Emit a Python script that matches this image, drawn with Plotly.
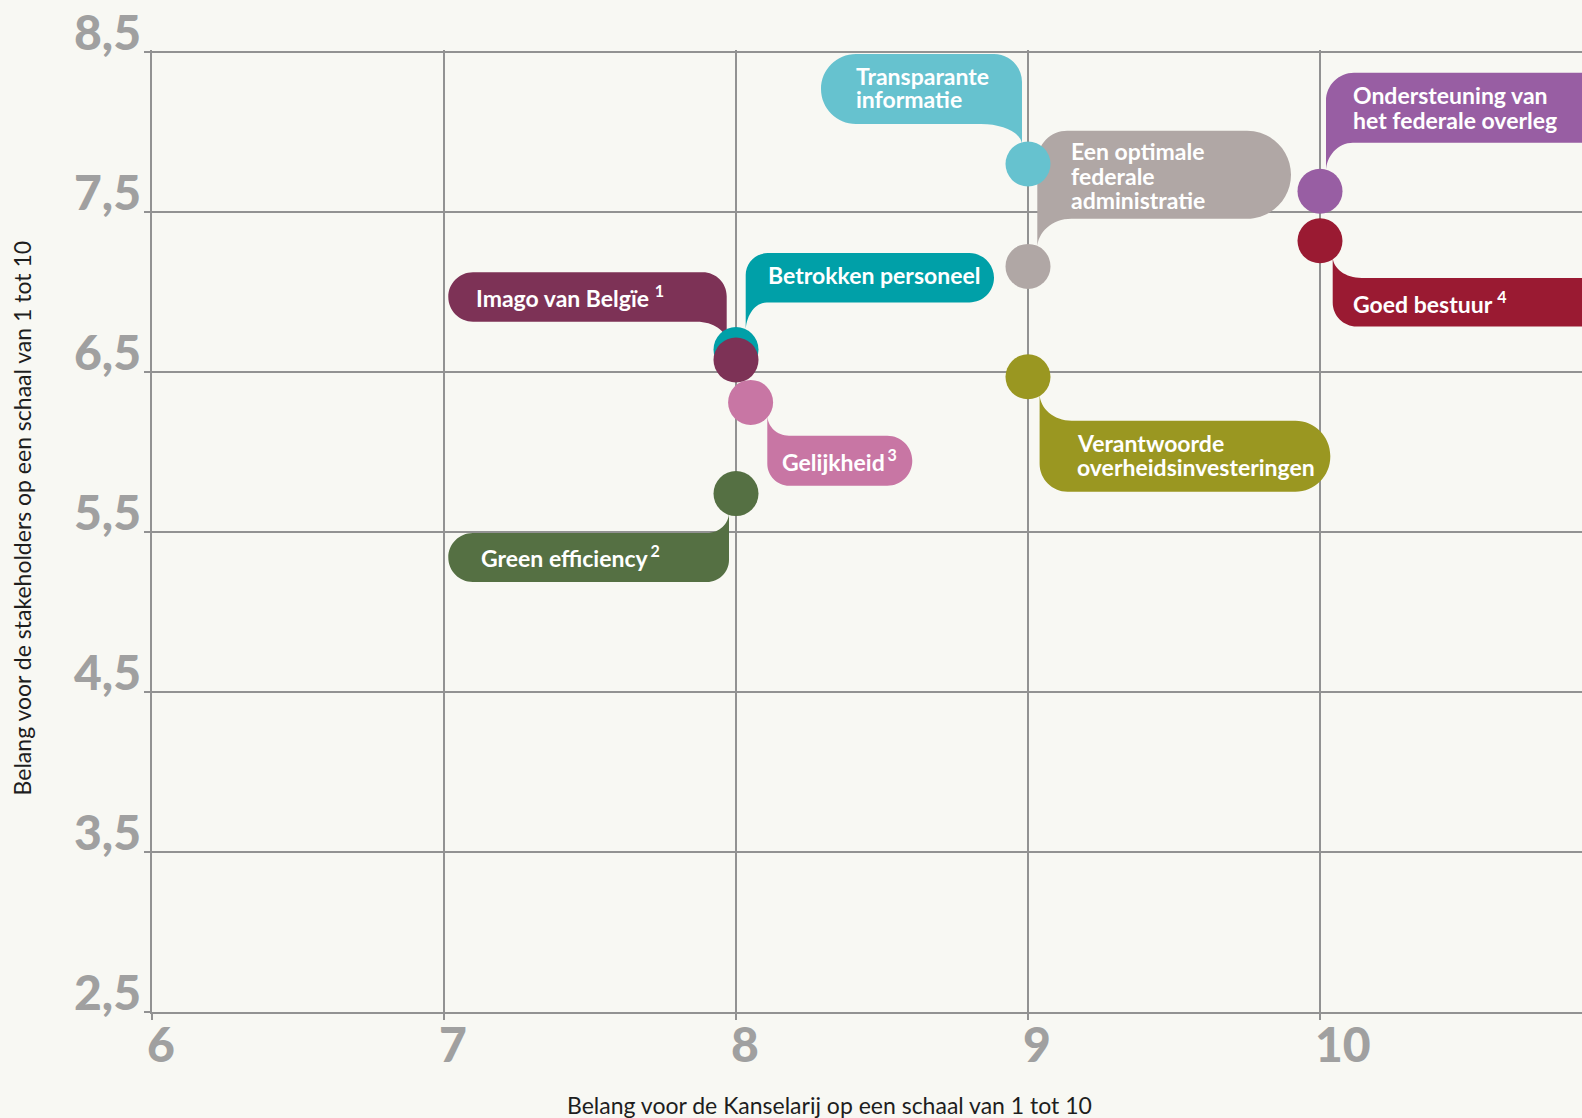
import math
import plotly.graph_objects as go

# ---------------- data ----------------
categories = [
    "Green efficiency", "Gelijkheid", "Betrokken personeel", "Imago van Belgïe",
    "Verantwoorde overheidsinvesteringen", "Een optimale federale administratie",
    "Transparante informatie", "Goed bestuur", "Ondersteuning van het federale overleg",
]
label_lines = [
    ["Green efficiency\u2009<sup>2</sup>"],
    ["Gelijkheid\u2009<sup>3</sup>"],
    ["Betrokken personeel"],
    ["Imago van Belgïe <sup>1</sup>"],
    ["Verantwoorde", "overheidsinvesteringen"],
    ["Een optimale", "federale", "administratie"],
    ["Transparante", "informatie"],
    ["Goed bestuur <sup>4</sup>"],
    ["Ondersteuning van", "het federale overleg"],
]
kanselarij = [8, 8.05, 8, 8, 9, 9, 9, 10, 10]
stakeholders = [5.74, 6.31, 6.64, 6.575, 6.47, 7.16, 7.8, 7.32, 7.63]

x_tick_vals = [6, 7, 8, 9, 10]
x_tick_text = ["6", "7", "8", "9", "10"]
y_tick_vals = [2.5, 3.5, 4.5, 5.5, 6.5, 7.5, 8.5]
y_tick_text = ["2,5", "3,5", "4,5", "5,5", "6,5", "7,5", "8,5"]

x_title = "Belang voor de Kanselarij op een schaal van 1 tot 10"
y_title = "Belang voor de stakeholders op een schaal van 1 tot 10"

# ---------------- style ----------------
colors = ["#557043", "#c876a4", "#00a0a8", "#7d3256", "#9a9721",
          "#b0a7a5", "#66c2cf", "#9a1a32", "#985ea3"]
BG = "#f8f8f3"
GRID = "#929292"
TICKC = "#a0a0a0"
FONT = "Lato"
LABEL_FS = 23
MARKER = 45
TXT_DX = -3

# callout geometry in screen pixels relative to the point (y down)
# L, R, T, B, tail corner, fillet width, near corner radius, far corner radius, text x, baselines
callouts = {
    "Transparante informatie": (-207, -6, -110, -40, "br", 41, 28, 35, -171, [-80, -56.7]),
    "Een optimale federale administratie": (9.3, 263, -135.7, -47.7, "bl", 34, 30, 44, 44, [-107.3, -81.7, -57.7]),
    "Ondersteuning van het federale overleg": (6, 320, -118.4, -48.4, "bl", 27, 28, 35, 34, [-88.4, -63.4]),
    "Goed bestuur": (12.7, 320, 37.3, 85.7, "tl", 29, 24, 24, 34, [69.7]),
    "Verantwoorde overheidsinvesteringen": (11.6, 302.3, 44, 115, "tl", 32, 28, 35, 49.6, [74.3, 98.3]),
    "Betrokken personeel": (9.7, 258, -96.5, -47.2, "bl", 21, 22, 24.6, 33.3, [-66.2]),
    "Imago van Belgïe": (-287.7, -9.3, -87.7, -38.3, "br", 30, 24, 24.7, -258.7, [-55]),
    "Gelijkheid": (16.7, 161.7, 33.3, 83.3, "tl", 21.7, 22, 25, 32.7, [66.6]),
    "Green efficiency": (-287.7, -7, 39.4, 88.4, "tr", 22, 22, 24.5, -254.3, [70.7]),
}

K = 0.5523


def callout_path(L, R, T, B, corner, fx, rn, rf):
    sx = -1 if corner in ("br", "tr") else 1
    sy = -1 if corner in ("tl", "tr") else 1
    a, b = sorted([sx * L, sx * R])
    f, n = sorted([sy * T, sy * B])
    rm = MARKER / 2
    gap = abs(n) - math.sqrt(max(rm * rm - a * a, 0))
    fy = gap + 2.5
    rf = min(rf, (n - f) / 2)
    cmds = [
        ("M", [(a, f + rn)]),
        ("C", [(a, f + rn - K * rn), (a + rn - K * rn, f), (a + rn, f)]),
        ("L", [(b - rf, f)]),
        ("C", [(b - rf + K * rf, f), (b, f + rf - K * rf), (b, f + rf)]),
        ("L", [(b, n - rf)]),
        ("C", [(b, n - rf + K * rf), (b - rf + K * rf, n), (b - rf, n)]),
        ("L", [(a + fx, n)]),
        ("C", [(a + fx - K * fx, n), (a, n + fy - K * fy), (a, n + fy)]),
    ]
    out = []
    for c, pts in cmds:
        s = " ".join(f"{sx * x:.2f},{-(sy * y):.2f}" for x, y in pts)
        out.append(f"{c}{s}")
    return " ".join(out) + " Z"


fig = go.Figure()

shapes = []
annotations = []
for name, lines, xv, yv, col in zip(categories, label_lines, kanselarij, stakeholders, colors):
    L, R, T, B, corner, fx, rn, rf, tx, baselines = callouts[name]
    shapes.append(dict(
        type="path", xref="x", yref="y", xsizemode="pixel", ysizemode="pixel",
        xanchor=xv, yanchor=yv, path=callout_path(L, R, T, B, corner, fx, rn, rf),
        fillcolor=col, line=dict(width=0), layer="between",
    ))
    for line, bl in zip(lines, baselines):
        annotations.append(dict(
            x=xv, y=yv, xref="x", yref="y", text=line, showarrow=False,
            xanchor="left", yanchor="middle", xshift=tx + TXT_DX,
            yshift=-(bl - 0.36 * LABEL_FS),
            font=dict(family=FONT, size=LABEL_FS, color="white", weight=700),
        ))

fig.add_trace(go.Scatter(
    x=kanselarij, y=stakeholders, mode="markers", text=categories,
    marker=dict(size=MARKER, color=colors, line=dict(width=0), opacity=1),
    hoverinfo="text", showlegend=False, cliponaxis=False,
))

# tick labels (drawn from the tick lists, placed like the original: beside the ticks)
for v, t in zip(y_tick_vals, y_tick_text):
    annotations.append(dict(
        x=0, y=v, xref="paper", yref="y", text=t, showarrow=False,
        xanchor="right", yanchor="bottom", xshift=-9, yshift=-10,
        font=dict(family=FONT, size=48, color=TICKC, weight=900),
    ))
for v, t in zip(x_tick_vals, x_tick_text):
    annotations.append(dict(
        x=v, y=0, xref="x", yref="paper", text=t, showarrow=False,
        xanchor="left", yanchor="top", xshift=-7, yshift=-1,
        font=dict(family=FONT, size=48, color=TICKC, weight=900),
    ))

annotations.append(dict(
    x=0.474, y=-0.097, xref="paper", yref="paper", text=x_title, showarrow=False,
    xanchor="center", yanchor="middle", font=dict(family=FONT, size=23, color="#1e1e1e"),
))
annotations.append(dict(
    x=-0.091, y=0.514, xref="paper", yref="paper", text=y_title, showarrow=False,
    textangle=-90, xanchor="center", yanchor="middle",
    font=dict(family=FONT, size=23, color="#1e1e1e"),
))

axis_common = dict(
    showgrid=True, gridcolor=GRID, gridwidth=2, zeroline=False,
    showline=True, linecolor=GRID, linewidth=2,
    ticks="outside", ticklen=6, tickwidth=2, tickcolor=GRID,
    showticklabels=False,
)

fig.update_layout(
    width=1582, height=1118,
    margin=dict(l=152, r=0, t=50, b=106, pad=0),
    paper_bgcolor=BG, plot_bgcolor=BG,
    shapes=shapes, annotations=annotations,
    xaxis=dict(range=[6, 6 + 1430 / 292], tickvals=x_tick_vals, **axis_common),
    yaxis=dict(range=[2.5, 8.5125], tickvals=y_tick_vals, **axis_common),
)

fig.write_html("out.html", config={"displayModeBar": False},
               post_script="document.body.style.margin='0';")
